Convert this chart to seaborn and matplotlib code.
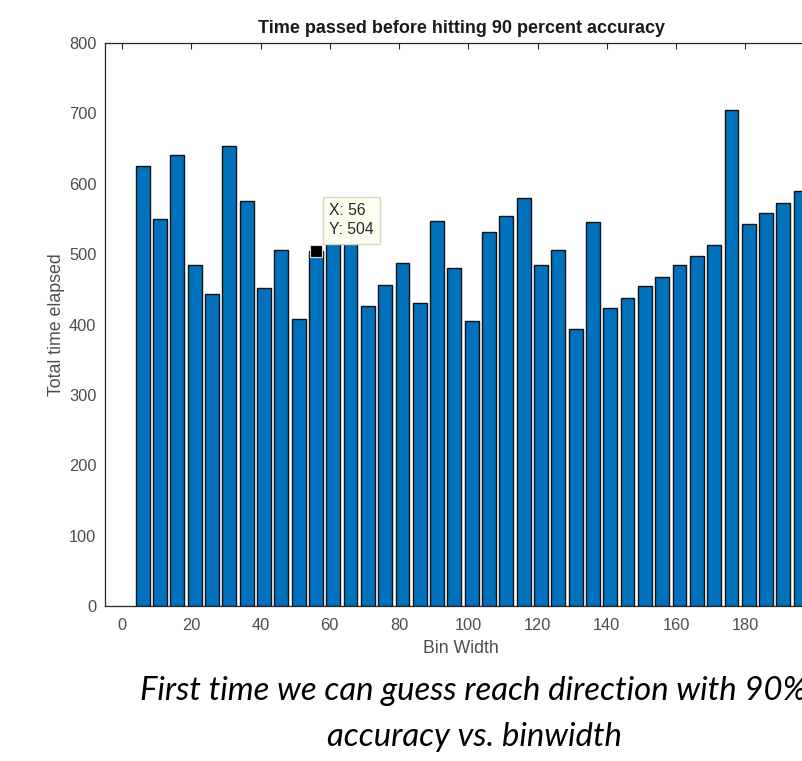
import matplotlib
matplotlib.use("Agg")
import matplotlib.pyplot as plt
import seaborn as sns
import pandas as pd

bin_widths = [6, 11, 16, 21, 26, 31, 36, 41, 46, 51, 56, 61, 66, 71, 76, 81, 86, 91, 96,
              101, 106, 111, 116, 121, 126, 131, 136, 141, 146, 151, 156, 161, 166, 171,
              176, 181, 186, 191, 196]
total_time = [625, 550, 641, 484, 443, 653, 575, 452, 506, 408, 504, 550, 545, 426, 456,
              487, 430, 547, 480, 405, 531, 554, 580, 484, 506, 393, 545, 423, 437, 454,
              468, 484, 498, 513, 705, 543, 559, 573, 590]
x_ticks = [0, 20, 40, 60, 80, 100, 120, 140, 160, 180, 200]
y_ticks = [0, 100, 200, 300, 400, 500, 600, 700, 800]
tip_x, tip_y = 56, 504

title = "Time passed before hitting 90 percent accuracy"
xlabel = "Bin Width"
ylabel = "Total time elapsed"
caption1 = "First time we can guess reach direction with 90%"
caption2 = "accuracy vs. binwidth"

sns.set_theme(style="white")
plt.rcParams["font.family"] = ["Liberation Sans", "DejaVu Sans"]

W, H = 802, 761
fig = plt.figure(figsize=(W / 100, H / 100), dpi=100)
left, right, bottom, top = 104.7, 818.0, 606.0, 43.0
ax = fig.add_axes([left / W, 1 - bottom / H, (right - left) / W, (bottom - top) / H])

df = pd.DataFrame({"bin": bin_widths, "time": total_time})
sns.barplot(data=df, x="bin", y="time", native_scale=True, color="#0072BD",
            saturation=1, edgecolor="#111111", linewidth=1.0, width=0.8, ax=ax,
            errorbar=None)

ax.set_xlim(-5, 201)
ax.set_ylim(0, 800)
ax.set_xticks(x_ticks)
ax.set_yticks(y_ticks)
ax.tick_params(direction="in", top=True, right=True, length=4, width=0.8,
               colors="#262626", labelcolor="#4d4d4d", labelsize=11.8)
ax.tick_params(axis="x", pad=9)
ax.tick_params(axis="y", pad=6)
for s in ax.spines.values():
    s.set_color("#262626")
    s.set_linewidth(0.9)
    s.set_visible(True)
ax.set_xlabel(xlabel, fontsize=12.8, color="#4d4d4d", labelpad=5)
ax.set_ylabel(ylabel, fontsize=12.8, color="#4d4d4d", labelpad=3)
ax.set_title(title, fontsize=13, fontweight="bold", color="#1a1a1a", pad=7.5)

# data tip
ax.plot([tip_x], [tip_y], marker="s", markersize=8, color="black",
        markeredgecolor="#dddddd", markeredgewidth=0.8, zorder=6, clip_on=False)
ax.annotate(f"X: {tip_x}\nY: {tip_y}", xy=(tip_x, tip_y), xytext=(13, 14),
            textcoords="offset pixels", ha="left", va="bottom", fontsize=11.3,
            color="#262626", linespacing=1.35, zorder=7,
            bbox=dict(boxstyle="square,pad=0.4", fc="#fffff0", ec="#d8d8c8", lw=1))

# caption
cx = 474 / W
t2 = fig.text(cx, 1 - 737 / H, caption2, ha="center", va="center",
              fontsize=20, style="italic", family=["Lato", "DejaVu Sans"], color="black")
fig.canvas.draw()
w = t2.get_window_extent().width
fs = 20 * 295 / w
t2.set_fontsize(fs)
fig.text(cx, 1 - 691 / H, caption1, ha="center", va="center",
         fontsize=fs, style="italic", family=["Lato", "DejaVu Sans"], color="black")

fig.savefig("out.png", dpi=100)
